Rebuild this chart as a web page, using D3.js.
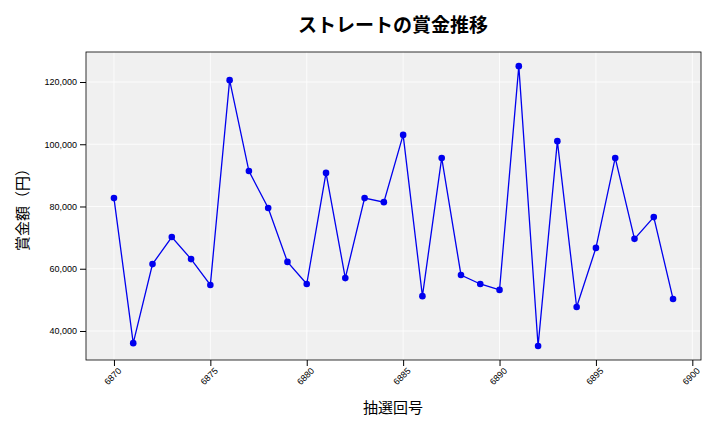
<!DOCTYPE html>
<html><head><meta charset="utf-8">
<script src="https://cdn.jsdelivr.net/npm/d3@7"></script>
<style>body{margin:0;background:#fff;font-family:"Noto Sans CJK JP","DejaVu Sans",sans-serif}</style>
</head><body><svg id="c" width="720" height="432"></svg>
<script>
const draws = d3.range(6870, 6900);
const values = [82700,36100,61500,70200,63100,54800,120600,91400,79500,62200,55100,90800,57000,82700,81400,103000,51200,95600,58000,55100,53200,125100,35200,101000,47700,66700,95600,69600,76600,50300];
const xTicks = [6870,6875,6880,6885,6890,6895,6900];
const yTicks = [40000,60000,80000,100000,120000];
const svg = d3.select("#c");
const L=86,R=701,T=52,B=360;
const x = d3.scaleLinear().domain([6868.55,6900.45]).range([L,R]);
const y = d3.scaleLinear().domain([30680,129640]).range([B,T]);
svg.append("rect").attr("x",L).attr("y",T).attr("width",R-L).attr("height",B-T).attr("fill","#f0f0f0");
const g=svg.append("g");
xTicks.forEach(t=>g.append("line").attr("x1",x(t)).attr("x2",x(t)).attr("y1",T).attr("y2",B).attr("stroke","#fff").attr("stroke-width",0.8));
yTicks.forEach(t=>g.append("line").attr("x1",L).attr("x2",R).attr("y1",y(t)).attr("y2",y(t)).attr("stroke","#fff").attr("stroke-width",0.8));
svg.append("rect").attr("x",L).attr("y",T).attr("width",R-L).attr("height",B-T).attr("fill","none").attr("stroke","#000").attr("stroke-width",0.8);
const xa=svg.append("g").attr("transform",`translate(0,${B})`).call(d3.axisBottom(x).tickValues(xTicks).tickFormat(d3.format("d")).tickSizeOuter(0));
xa.select(".domain").remove();
xa.selectAll("text").attr("font-size",9).attr("transform","rotate(-45)").attr("text-anchor","end").attr("dx","-0.3em").attr("dy","0.5em");
const ya=svg.append("g").attr("transform",`translate(${L},0)`).call(d3.axisLeft(y).tickValues(yTicks).tickFormat(d3.format(",")).tickSizeOuter(0));
ya.select(".domain").remove();
ya.selectAll("text").attr("font-size",9);
const pts=draws.map((d,i)=>[d,values[i]]);
svg.append("path").datum(pts).attr("fill","none").attr("stroke","#0000ee").attr("stroke-width",1.3)
 .attr("d",d3.line().x(d=>x(d[0])).y(d=>y(d[1])));
svg.selectAll("circle.p").data(pts).join("circle").attr("cx",d=>x(d[0])).attr("cy",d=>y(d[1])).attr("r",3.3).attr("fill","#0000ee");
svg.append("text").attr("x",393).attr("y",32).attr("text-anchor","middle").attr("font-size",19).attr("font-weight","bold").text("ストレートの賞金推移");
svg.append("text").attr("x",393).attr("y",413).attr("text-anchor","middle").attr("font-size",15).text("抽選回号");
svg.append("text").attr("transform","translate(28,206) rotate(-90)").attr("text-anchor","middle").attr("font-size",15).text("賞金額（円）");
</script></body></html>
